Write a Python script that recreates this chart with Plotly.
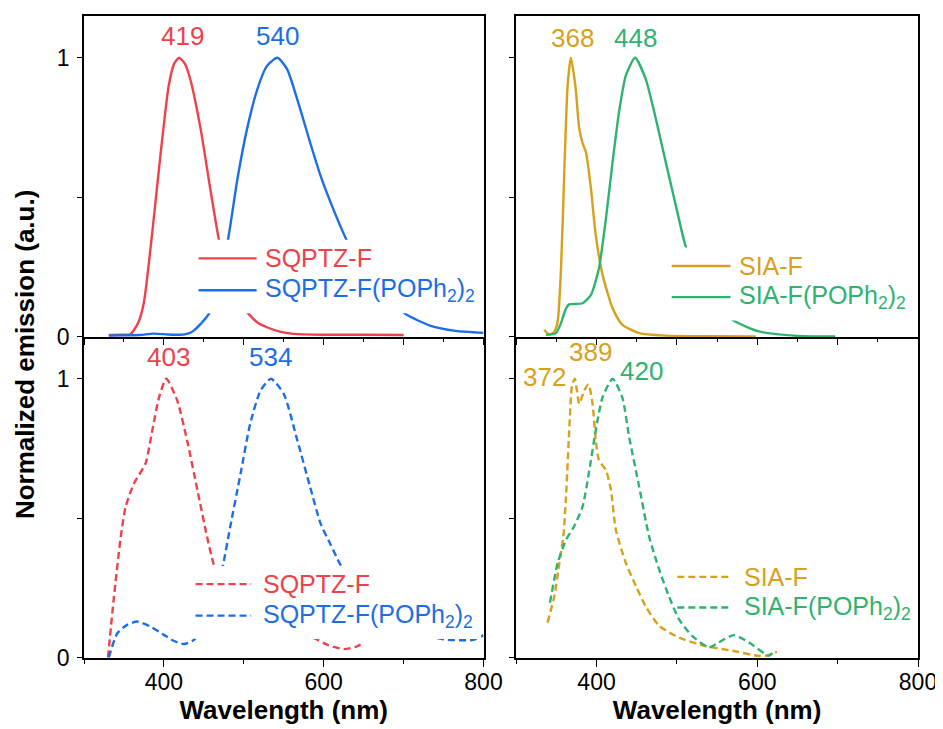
import plotly.graph_objects as go

# ---------------- data ----------------
# Top-left: solid, SQPTZ-F / SQPTZ-F(POPh2)2
tl_red_wl = [331, 345, 358, 368, 375, 385, 396, 406, 413, 419, 426, 433, 446, 458, 469, 480, 492, 506, 517, 529, 545, 562, 600, 650, 700]
tl_red_v = [0.005, 0.006, 0.008, 0.05, 0.123, 0.362, 0.66, 0.9, 0.98, 1.0, 0.98, 0.923, 0.744, 0.53, 0.344, 0.21, 0.13, 0.081, 0.05, 0.033, 0.017, 0.009, 0.006, 0.006, 0.005]
tl_blue_wl = [331, 350, 370, 387, 405, 421, 430, 437, 446, 456, 468, 480, 492, 504, 517, 529, 542, 554, 567, 583, 596, 612, 629, 650, 675, 702, 733, 765, 800]
tl_blue_v = [0.003, 0.004, 0.005, 0.01, 0.007, 0.006, 0.01, 0.02, 0.045, 0.08, 0.2, 0.344, 0.565, 0.744, 0.888, 0.971, 1.0, 0.96, 0.85, 0.696, 0.577, 0.457, 0.344, 0.24, 0.15, 0.081, 0.039, 0.02, 0.013]

# Top-right: solid, SIA-F / SIA-F(POPh2)2
tr_gold_wl = [335, 341, 347, 351.6, 355.8, 360, 364, 368, 373.6, 378.5, 383, 386.8, 393, 399, 407.5, 420, 432, 453, 486, 540, 598]
tr_gold_v = [0.024, 0.006, 0.015, 0.054, 0.245, 0.603, 0.9, 1.0, 0.9, 0.746, 0.69, 0.662, 0.531, 0.364, 0.221, 0.101, 0.042, 0.012, 0.003, 0.001, 0.0]
tr_green_wl = [337, 349.6, 356, 362, 366, 370, 382.6, 393, 403, 411.7, 420, 428, 436.5, 448, 461, 473.7, 486, 498.5, 511, 530, 550, 571, 602, 651, 697]
tr_green_v = [0.006, 0.012, 0.05, 0.101, 0.115, 0.116, 0.119, 0.149, 0.245, 0.424, 0.627, 0.806, 0.937, 1.0, 0.925, 0.782, 0.627, 0.472, 0.322, 0.19, 0.105, 0.056, 0.018, 0.002, 0.0]

# Bottom-left: dashed
bl_red_wl = [330, 337.5, 346, 352, 362.5, 377, 385.5, 394, 403, 416.7, 429, 442, 454, 462.5, 475, 490, 510, 540, 565, 587.5, 605, 625, 640, 650]
bl_red_v = [0.0, 0.218, 0.433, 0.54, 0.624, 0.696, 0.815, 0.934, 1.0, 0.922, 0.779, 0.6, 0.433, 0.332, 0.23, 0.16, 0.115, 0.09, 0.08, 0.069, 0.045, 0.03, 0.038, 0.052]
bl_blue_wl = [331, 341.7, 354, 366.7, 383, 400, 412, 425, 437.5, 450, 462, 474, 483, 496, 508, 521, 534, 550, 567, 583, 596, 608, 621, 640, 660, 690, 720, 750, 787.5, 800]
bl_blue_v = [0.0, 0.087, 0.117, 0.129, 0.111, 0.081, 0.06, 0.048, 0.063, 0.11, 0.2, 0.332, 0.469, 0.66, 0.839, 0.958, 1.0, 0.946, 0.779, 0.612, 0.481, 0.409, 0.332, 0.25, 0.18, 0.12, 0.085, 0.065, 0.063, 0.08]

# Bottom-right: dashed
br_gold_wl = [339, 347.5, 353.7, 358.7, 362, 366, 369.5, 373, 378.5, 384.7, 390, 395, 399, 403, 411.7, 418, 424, 436.5, 449, 461, 478, 502.6, 535.7, 568.8, 600, 611, 624.6]
br_gold_v = [0.125, 0.22, 0.339, 0.434, 0.577, 0.815, 0.976, 1.0, 0.911, 0.958, 0.98, 0.911, 0.78, 0.708, 0.672, 0.6, 0.458, 0.339, 0.256, 0.184, 0.113, 0.071, 0.041, 0.024, 0.006, 0.006, 0.02]
br_green_wl = [342, 351.6, 362, 372, 382.6, 391, 399, 407.5, 420, 432, 440.6, 453, 465.4, 478, 490, 502.6, 519, 540, 552, 570.8, 589.5, 610, 614, 620.5]
br_green_v = [0.196, 0.339, 0.422, 0.47, 0.541, 0.672, 0.815, 0.934, 1.0, 0.934, 0.791, 0.613, 0.434, 0.315, 0.22, 0.137, 0.077, 0.036, 0.054, 0.08, 0.054, 0.012, 0.006, 0.018]

names_sq = ["SQPTZ-F", "SQPTZ-F(POPh<sub>2</sub>)<sub>2</sub>"]
names_sia = ["SIA-F", "SIA-F(POPh<sub>2</sub>)<sub>2</sub>"]
peaks_tl = ["419", "540"]
peaks_tr = ["368", "448"]
peaks_bl = ["403", "534"]
peaks_br = ["372", "389", "420"]

x_tick_vals = [400, 600, 800]
y_tick_vals = [0, 1]

# ---------------- style ----------------
RED = "#F0404A"
BLUE = "#1C6EE6"
GOLD = "#D6A11C"
GREEN = "#2EB36F"
FONT = "Liberation Sans, Arial, sans-serif"
DASH = "7px,4px"
LW = 2.4

fig = go.Figure()

def add_line(wl, v, color, xa, ya, dash=None):
    fig.add_trace(go.Scatter(
        x=wl, y=v, mode="lines", xaxis=xa, yaxis=ya, showlegend=False,
        line=dict(color=color, width=LW, dash=dash if dash else "solid",
                  shape="spline", smoothing=0.6),
        hoverinfo="skip"))

add_line(tl_red_wl, tl_red_v, RED, "x", "y")
add_line(tl_blue_wl, tl_blue_v, BLUE, "x", "y")
add_line(tr_gold_wl, tr_gold_v, GOLD, "x2", "y2")
add_line(tr_green_wl, tr_green_v, GREEN, "x2", "y2")
add_line(bl_red_wl, bl_red_v, RED, "x3", "y3", DASH)
add_line(bl_blue_wl, bl_blue_v, BLUE, "x3", "y3", DASH)
add_line(br_gold_wl, br_gold_v, GOLD, "x4", "y4", DASH)
add_line(br_green_wl, br_green_v, GREEN, "x4", "y4", DASH)

shapes = []
annotations = []

def legend(xr, yr, box, x0, x1, xt, rows, names, colors, dash):
    shapes.append(dict(type="rect", xref=xr, yref=yr, x0=box[0], x1=box[1],
                       y0=box[2], y1=box[3], fillcolor="white",
                       line=dict(width=0), layer="above"))
    for yv, nm, c in zip(rows, names, colors):
        shapes.append(dict(type="line", xref=xr, yref=yr, x0=x0, x1=x1, y0=yv, y1=yv,
                           line=dict(color=c, width=LW, dash=dash if dash else "solid"),
                           layer="above"))
        annotations.append(dict(xref=xr, yref=yr, x=xt, y=yv, text=nm, showarrow=False,
                                xanchor="left", yanchor="middle",
                                font=dict(family=FONT, size=25, color=c)))

legend("x", "y", (440, 797, 0.083, 0.347), 443.4, 516, 524, (0.28, 0.166), names_sq, (RED, BLUE), None)
legend("x2", "y2", (490, 795, 0.057, 0.319), 493.5, 566.7, 575, (0.253, 0.141), names_sia, (GOLD, GREEN), None)
legend("x3", "y3", (438, 797, 0.066, 0.328), 439.6, 509.2, 522, (0.263, 0.150), names_sq, (RED, BLUE), DASH)
legend("x4", "y4", (500, 797, 0.16, 0.36), 500.5, 568.7, 581, (0.289, 0.179), names_sia, (GOLD, GREEN), DASH)

def peak(xr, yr, x, y, txt, c):
    annotations.append(dict(xref=xr, yref=yr, x=x, y=y, text=txt, showarrow=False,
                            xanchor="center", yanchor="middle",
                            font=dict(family=FONT, size=26, color=c)))

peak("x", "y", 423, 1.078, peaks_tl[0], RED)
peak("x", "y", 541.7, 1.078, peaks_tl[1], BLUE)
peak("x2", "y2", 369.5, 1.071, peaks_tr[0], GOLD)
peak("x2", "y2", 449, 1.071, peaks_tr[1], GREEN)
peak("x3", "y3", 406, 1.08, peaks_bl[0], RED)
peak("x3", "y3", 533, 1.08, peaks_bl[1], BLUE)
peak("x4", "y4", 335, 1.008, peaks_br[0], GOLD)
peak("x4", "y4", 393, 1.095, peaks_br[1], GOLD)
peak("x4", "y4", 456, 1.028, peaks_br[2], GREEN)

# page body has an 8px margin, so the figure is 8px smaller than the window
W, H = 935, 721
ML, MR, MT, MB = 76, 24, 6, 71
plot_w = W - ML - MR

# y-axis title shared by both rows
annotations.append(dict(xref="paper", yref="paper", x=(17 - ML) / plot_w, y=0.472,
                        text="Normalized emission (a.u.)", textangle=-90, showarrow=False,
                        xanchor="center", yanchor="middle",
                        font=dict(family=FONT, size=26, color="black", weight="bold")))

axis_common = dict(showline=True, linecolor="black", linewidth=1.6,
                   ticks="outside", tickcolor="black", tickwidth=1.4,
                   showgrid=False, zeroline=False,
                   tickfont=dict(family=FONT, size=23, color="black"))

def xaxis_top(domain):
    return dict(axis_common, mirror=True, domain=domain, range=[300, 800], tick0=300, dtick=100,
                ticklen=6, showticklabels=False,
                minor=dict(dtick=50, tick0=300, ticks="outside", ticklen=3,
                           tickcolor="black", tickwidth=1.4, showgrid=False))

def xaxis_bot(domain):
    # no mirrored top line: the row above supplies the shared border
    return dict(axis_common, mirror=False, domain=domain, range=[300, 800], tickvals=x_tick_vals,
                ticklen=7, showticklabels=True, ticklabelstandoff=-4,
                minor=dict(dtick=100, tick0=300, ticks="outside", ticklen=4,
                           tickcolor="black", tickwidth=1.4, showgrid=False),
                title=dict(text="Wavelength (nm)", standoff=6,
                           font=dict(family=FONT, size=26, color="black", weight="bold")))

def yaxis(domain, anchor, labels, rng):
    return dict(axis_common, mirror=True, domain=domain, anchor=anchor, range=rng,
                tickvals=y_tick_vals, ticklen=5, showticklabels=labels, ticklabelstandoff=3,
                minor=dict(dtick=0.5, tick0=0, ticks="outside", ticklen=5,
                           tickcolor="black", tickwidth=1.4, showgrid=False))

XL = [0, 400 / plot_w]
XR = [(516.7 - 84) / plot_w, 1]
YT = [0.5, 1]
YB = [0, 0.5]

fig.update_layout(
    width=W, height=H,
    margin=dict(l=ML, r=MR, t=MT, b=MB),
    paper_bgcolor="white", plot_bgcolor="white",
    showlegend=False,
    xaxis=dict(xaxis_top(XL), anchor="y"),
    yaxis=yaxis(YT, "x", True, [-0.002, 1.15]),
    xaxis2=dict(xaxis_top(XR), anchor="y2"),
    yaxis2=yaxis(YT, "x2", False, [-0.002, 1.15]),
    xaxis3=dict(xaxis_bot(XL), anchor="y3"),
    yaxis3=yaxis(YB, "x3", True, [-0.002, 1.15]),
    xaxis4=dict(xaxis_bot(XR), anchor="y4"),
    yaxis4=yaxis(YB, "x4", False, [-0.002, 1.15]),
    shapes=shapes,
    annotations=annotations,
)

fig.write_html("out.html")
